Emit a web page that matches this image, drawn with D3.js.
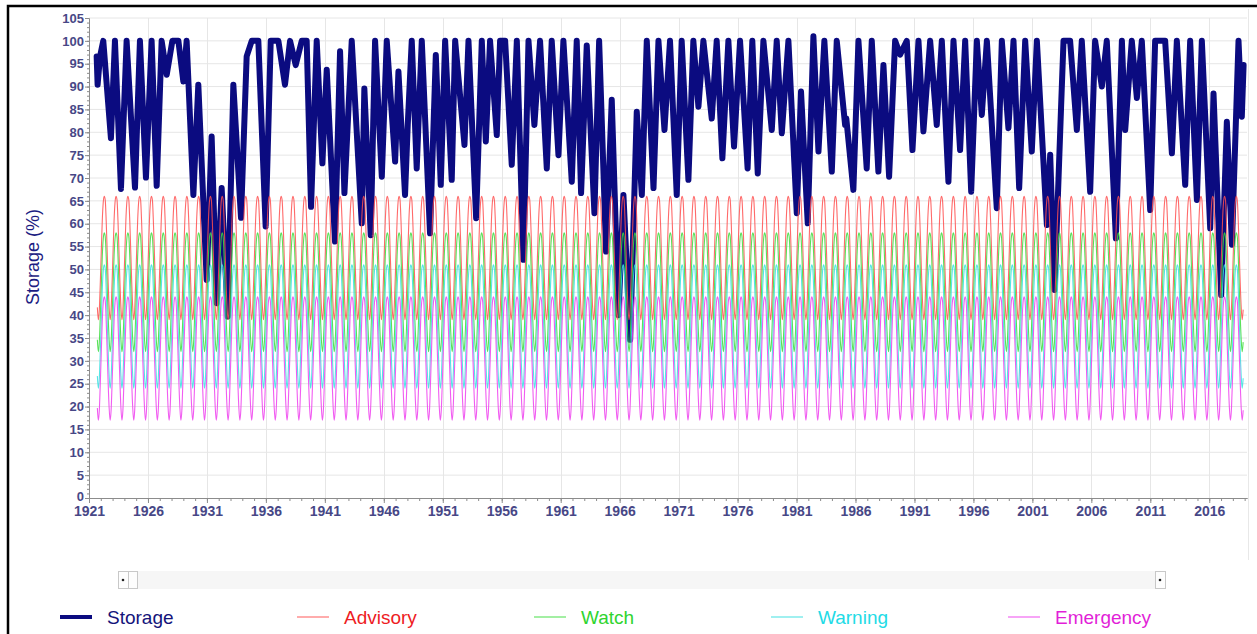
<!DOCTYPE html>
<html><head><meta charset="utf-8">
<script src="https://cdn.jsdelivr.net/npm/d3@7"></script>
<style>
html,body{margin:0;padding:0;background:#fff;}
svg{display:block;font-family:Arial,"Liberation Sans",sans-serif;}
</style></head><body>
<svg id="chart" width="1257" height="634"></svg>
<script>
// ---------- DATA ----------
const storageYears = [
1921.65,1921.73,1921.93,1922.21,1922.86,1923.20,1923.71,1924.19,1924.90,1925.32,1925.83,1926.31,1926.74,1927.16,1927.59,1928.07,1928.58,1929.00,1929.28,1929.85,
1930.27,1930.98,1931.40,1931.83,1932.25,1932.76,1933.24,1933.89,1934.37,1934.80,1935.36,1935.98,1936.41,1937.06,1937.62,1938.05,1938.53,1939.04,1939.46,1939.83,
1940.31,1940.79,1941.16,1941.86,1942.29,1942.66,1943.28,1944.13,1944.35,1944.89,1945.26,1945.83,1946.25,1946.96,1947.24,1947.80,1948.03,1948.37,1948.79,1949.22,
1949.92,1950.41,1950.83,1951.20,1951.76,1952.05,1952.84,1953.18,1953.83,1954.31,1954.65,1955.01,1955.58,1955.86,1956.29,1956.85,1957.28,1957.84,1958.27,1958.77,
1959.25,1959.82,1960.24,1960.81,1961.23,1961.94,1962.36,1962.73,1963.21,1963.86,1964.26,1964.85,1965.33,1965.90,1966.32,1966.89,1967.45,1967.88,1968.30,1968.87,
1969.29,1969.80,1970.27,1970.84,1971.26,1971.83,1972.25,1972.68,1973.10,1973.81,1974.23,1974.71,1975.22,1975.70,1976.21,1976.85,1977.25,1977.71,1978.19,1978.90,
1979.32,1979.75,1980.31,1981.02,1981.38,1981.95,1982.43,1982.86,1983.36,1983.99,1984.41,1985.12,1985.22,1985.82,1986.25,1986.95,1987.38,1987.94,1988.37,1988.85,
1989.36,1989.78,1990.35,1990.83,1991.34,1991.76,1992.33,1992.89,1993.32,1993.88,1994.31,1994.87,1995.30,1995.81,1996.29,1996.71,1997.14,1997.98,1998.41,1998.97,
1999.40,1999.88,2000.39,2000.95,2001.38,2002.23,2002.51,2002.88,2003.44,2003.64,2004.20,2004.77,2005.19,2005.90,2006.32,2006.89,2007.31,2008.08,2008.59,2008.87,
2009.43,2009.86,2010.28,2010.99,2011.41,2012.26,2012.83,2013.25,2013.96,2014.38,2014.95,2015.37,2016.08,2016.36,2017.01,2017.49,2017.92,2018.48,2018.76,2018.91
];
const storageValues = [
96.6,90.4,96.5,100,78.7,100,67.6,100,67.9,100,70.1,100,68.3,100,92.6,100,100,91.1,100,66.3,
90.4,47.7,79.1,42.6,67.8,39.7,90.4,61.3,96.6,100,100,59.4,100,100,90.4,100,94.7,100,100,63.7,
100,73.2,93.7,56.1,97.7,66.7,100,60.1,89.6,57.5,100,70.3,100,73.6,93.3,66.3,81.6,100,72.1,100,
57.9,96.9,68.5,100,69.6,100,77.2,100,61.2,100,78,100,79.4,100,100,72.9,100,52.1,100,81.6,
100,72.1,100,75,100,69.2,100,66.7,99,62.3,100,53.9,87.1,40,66.3,34.6,84.5,66.3,100,67.8,
100,80.5,100,66.3,100,69.6,100,85.6,100,83,100,74.3,100,76.9,100,72.1,100,71,100,80.5,
100,79.8,100,62.3,88.9,60.1,101,75.8,100,71.4,100,81.6,83,67.4,100,72.1,100,71.4,94.7,70.3,
100,97,100,76.1,100,80.2,100,81.6,100,69.2,100,76.1,100,67,100,83.8,100,63.4,100,80.9,
100,67.8,100,75.8,100,59.7,75.1,45.5,86,100,100,80.5,100,67,100,90,100,56.8,100,80.5,
100,87.5,100,63,100,100,75.4,100,68.5,100,65.2,100,59,88.5,44.4,82.3,55.4,100,83.4,94.7
];

// seasonal trigger levels (% storage), Jan..Dec, repeated every year
const advisoryMonthly  = [53.9,60.6,64.7,66.0,65.2,60.6,53.9,47.1,41.7,39.0,41.2,47.1];
const watchMonthly     = [46.3,52.8,56.7,58.0,57.2,52.8,46.3,39.8,34.6,32.0,34.1,39.8];
const warningMonthly   = [38.9,45.6,49.7,51.0,50.2,45.6,38.9,32.1,26.7,24.0,26.2,32.1];
const emergencyMonthly = [31.9,38.6,42.7,44.0,43.2,38.6,31.9,25.1,19.7,17.0,19.2,25.1];
const triggerStart = [1921, 8];   // year, month index (Sep 1921)
const triggerEnd   = [2018, 10];  // Nov 2018

const yTickLabels = [0,5,10,15,20,25,30,35,40,45,50,55,60,65,70,75,80,85,90,95,100,105];
const xTickLabels = [1921,1926,1931,1936,1941,1946,1951,1956,1961,1966,1971,1976,1981,1986,1991,1996,2001,2006,2011,2016];
const seriesNames = ["Storage","Advisory","Watch","Warning","Emergency"];

// ---------- STYLE ----------
const lineColors = {Storage:"#0b0b80",Advisory:"#ff5050",Watch:"#3ddc3d",Warning:"#38e0e0",Emergency:"#ee40ee"};
const textColors = {Storage:"#14147a",Advisory:"#ee1c24",Watch:"#2fd42f",Warning:"#22dbe6",Emergency:"#e21fd8"};
const axisText = "#34347a";

const svg = d3.select("#chart");
const W = 1257, H = 634;
const x = d3.scaleLinear().domain([1921, 2019.2]).range([89, 1247]);
const y = d3.scaleLinear().domain([0, 105]).range([498, 18]);

svg.append("rect").attr("width",W).attr("height",H).attr("fill","#fff");

// gridlines
const grid = svg.append("g");
grid.selectAll("line.h").data(yTickLabels.slice(1)).join("line")
  .attr("x1",89).attr("x2",1247).attr("y1",d=>y(d)).attr("y2",d=>y(d))
  .attr("stroke","#e6e6e6").attr("stroke-width",1);
grid.selectAll("line.v").data(xTickLabels.slice(1)).join("line")
  .attr("y1",18).attr("y2",498).attr("x1",d=>Math.round(x(d))+0.5).attr("x2",d=>Math.round(x(d))+0.5)
  .attr("stroke","#e6e6e6").attr("stroke-width",1);
svg.append("line").attr("x1",1248.5).attr("x2",1248.5).attr("y1",9).attr("y2",560)
  .attr("stroke","#e8e8e8");

// series
const storage = storageYears.map((t,i)=>({t, v:storageValues[i]}));
function buildTrigger(monthly){
  const pts = [];
  for (let yr = triggerStart[0]; yr <= triggerEnd[0]; yr++){
    for (let m = 0; m < 12; m++){
      if (yr === triggerStart[0] && m < triggerStart[1]) continue;
      if (yr === triggerEnd[0] && m > triggerEnd[1]) continue;
      pts.push({t: yr + (m + 0.5)/12, v: monthly[m]});
    }
  }
  return pts;
}
const triggers = {
  Advisory: buildTrigger(advisoryMonthly),
  Watch: buildTrigger(watchMonthly),
  Warning: buildTrigger(warningMonthly),
  Emergency: buildTrigger(emergencyMonthly)
};

const line = d3.line().x(d=>x(d.t)).y(d=>y(d.v));
const smooth = d3.line().x(d=>x(d.t)).y(d=>y(d.v)).curve(d3.curveMonotoneX);

svg.append("path").datum(storage).attr("d",line).attr("fill","none")
  .attr("stroke",lineColors.Storage).attr("stroke-width",6)
  .attr("stroke-linejoin","round").attr("stroke-linecap","round");

["Advisory","Watch","Warning","Emergency"].forEach(k=>{
  svg.append("path").datum(triggers[k]).attr("d",smooth).attr("fill","none")
    .attr("stroke",lineColors[k]).attr("stroke-width",1.1).attr("stroke-opacity",0.85);
});

// axes
const yMinor = svg.append("g").attr("transform","translate(89,0)")
  .call(d3.axisLeft(y).tickValues(d3.range(0,106,1)).tickSize(2).tickFormat("").tickSizeOuter(0));
const yMajor = svg.append("g").attr("transform","translate(89,0)")
  .call(d3.axisLeft(y).tickValues(yTickLabels).tickSize(4).tickPadding(1).tickSizeOuter(0));
const xMinor = svg.append("g").attr("transform","translate(0,498)")
  .call(d3.axisBottom(x).tickValues(d3.range(1921,2020,1)).tickSize(3).tickFormat("").tickSizeOuter(0));
const xMajor = svg.append("g").attr("transform","translate(0,498)")
  .call(d3.axisBottom(x).tickValues(xTickLabels).tickSize(5).tickPadding(3).tickFormat(d3.format("d")).tickSizeOuter(0));
[yMinor,yMajor,xMinor,xMajor].forEach(g=>{
  g.selectAll("path.domain").attr("stroke","#8c8c8c");
  g.selectAll("line").attr("stroke","#8c8c8c");
});
yMajor.selectAll("text").attr("font-size",13).attr("fill",axisText).attr("font-family","Arial").attr("font-weight","bold").attr("opacity",0.9);
yMajor.selectAll(".tick").filter(d=>d===0).select("text").attr("dy","0.2em");
xMajor.selectAll("text").attr("font-size",14).attr("fill",axisText).attr("font-family","Arial").attr("font-weight","bold").attr("opacity",0.9);

// y title
svg.append("text").attr("transform","translate(39,257) rotate(-90)")
  .attr("text-anchor","middle").attr("font-size",18).attr("fill","#1c1c82")
  .text("Storage (%)");

// scrollbar
const sb = svg.append("g");
sb.append("rect").attr("x",118).attr("y",571).attr("width",1048).attr("height",18)
  .attr("fill","#f6f6f6");
sb.append("rect").attr("x",118.5).attr("y",571.5).attr("width",10).attr("height",17)
  .attr("fill","#fdfdfd").attr("stroke","#c8c8c8");
sb.append("rect").attr("x",128.5).attr("y",571.5).attr("width",9).attr("height",17)
  .attr("fill","#fdfdfd").attr("stroke","#c8c8c8");
sb.append("circle").attr("cx",123).attr("cy",580).attr("r",1.3).attr("fill","#222");
sb.append("rect").attr("x",1155.5).attr("y",571.5).attr("width",10).attr("height",17)
  .attr("fill","#fdfdfd").attr("stroke","#c8c8c8");
sb.append("circle").attr("cx",1160).attr("cy",580).attr("r",1.3).attr("fill","#222");

// legend
const leg = svg.append("g");
seriesNames.forEach((name,i)=>{
  const x0 = 60 + i*237;
  leg.append("line").attr("x1",x0).attr("x2",x0+32).attr("y1",617).attr("y2",617)
    .attr("stroke",lineColors[name]).attr("stroke-width",name==="Storage"?4:1.2)
    .attr("stroke-opacity",name==="Storage"?1:0.8);
  leg.append("text").attr("x",x0+47).attr("y",624).attr("font-size",19)
    .attr("fill",textColors[name]).text(name);
});

// outer frame
svg.append("rect").attr("x",8).attr("y",6).attr("width",1300).attr("height",700)
  .attr("fill","none").attr("stroke","#000").attr("stroke-width",2.5);
</script>
</body></html>
